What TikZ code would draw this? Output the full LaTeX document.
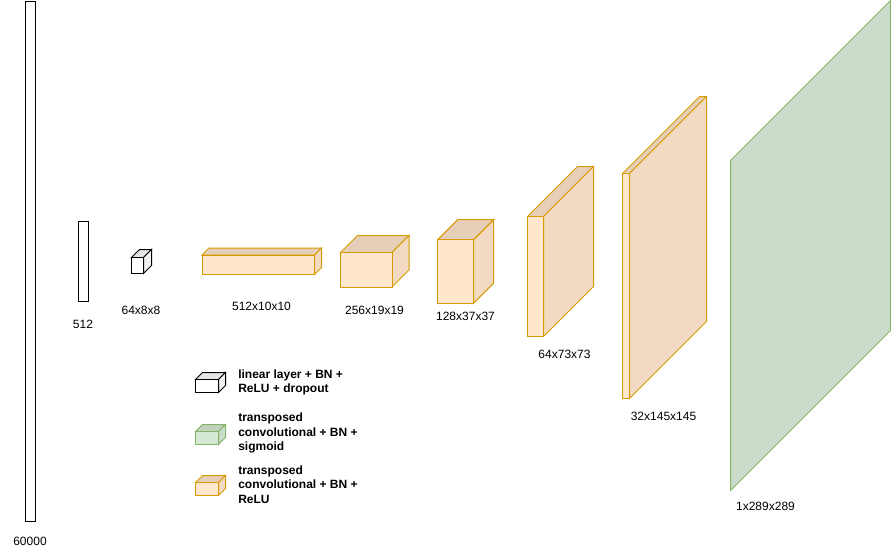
\documentclass[tikz,border=0pt]{standalone}
\usepackage{fontspec}
\setmainfont{Liberation Sans}
\definecolor{orangeline}{HTML}{D79B00}
\definecolor{orangefront}{HTML}{FFE6CC}
\definecolor{orangetop}{HTML}{E6CFB8}
\definecolor{orangeside}{HTML}{F2DAC2}
\definecolor{greenline}{HTML}{82B366}
\definecolor{greenfront}{HTML}{D5E8D4}
\definecolor{greentop}{HTML}{C0D1BF}
\definecolor{greenside}{HTML}{CADCC9}
\definecolor{plainline}{HTML}{000000}
\definecolor{plainfront}{HTML}{FFFFFF}
\definecolor{plaintop}{HTML}{E6E6E6}
\definecolor{plainside}{HTML}{F2F2F2}
\tikzset{
    face/.style={line width=0.75pt,line join=miter},
    sizelabel/.style={font=\fontsize{9}{11}\selectfont,inner sep=0pt},
    legendlabel/.style={font=\fontsize{9}{10.9}\selectfont\bfseries,inner sep=0pt,anchor=west,align=left}
}
\begin{document}
\begin{tikzpicture}[x=0.75pt,y=-0.75pt]
    \useasboundingbox (0,0) rectangle (891,557);

    % Flat layers
    \draw[face] (25.5,1.5) rectangle (35.5,521.5);
    \draw[face] (78.5,221.5) rectangle (88.5,301.5);

    % Cuboids: x / y / width / height / depth / colour
    \foreach \x/\y/\w/\h/\d/\kind in {131.5/257.5/12/16/8/plain,
        202/255/112.5/19.5/7/orange,
        340.5/252.5/51.5/34.5/17/orange,
        437.7/239.7/36/63.5/20/orange,
        527.5/216.5/16/120/50/orange,
        622.5/173.5/7/225/77/orange,
        195.5/379.5/23/13/7/plain, % legend
        195.5/431.5/23/13/7/green,
        195.5/482.5/23/13/7/orange} {
        \draw[face,draw=\kind line,fill=\kind top] (\x,\y) -- ++(\d,-\d) -- ++(\w,0) -- ++(-\d,\d) -- cycle;
        \draw[face,draw=\kind line,fill=\kind side] (\x+\w,\y) -- ++(\d,-\d) -- ++(0,\h) -- ++(-\d,\d) -- cycle;
        \draw[face,draw=\kind line,fill=\kind front] (\x,\y) rectangle ++(\w,\h);
    }

    % Output plane
    \draw[face,draw=greenline,fill=greenside] (730.5,160.5) -- (890.5,0.5) -- (890.5,330.5) -- (730.5,490.5) -- cycle;

    % Sizes
    \foreach \x/\y/\txt in {30/541/60000,
        83/324/512,
        141/310/64x8x8,
        261.5/306/512x10x10,
        374.5/310/256x19x19,
        465.5/316/128x37x37,
        564.5/354/64x73x73,
        663.5/416/32x145x145,
        765.5/506/1x289x289}
        \node[sizelabel] (size\txt) at (\x,\y) {\txt};

    % Legend
    \node[legendlabel] (legendplain) at (238,382.5) {linear layer + BN +\\ReLU + dropout};
    \node[legendlabel] (legendgreen) at (238,433) {transposed\\convolutional + BN +\\sigmoid};
    \node[legendlabel] (legendorange) at (238,484.5) {transposed\\convolutional + BN +\\ReLU};
\end{tikzpicture}
\end{document}
